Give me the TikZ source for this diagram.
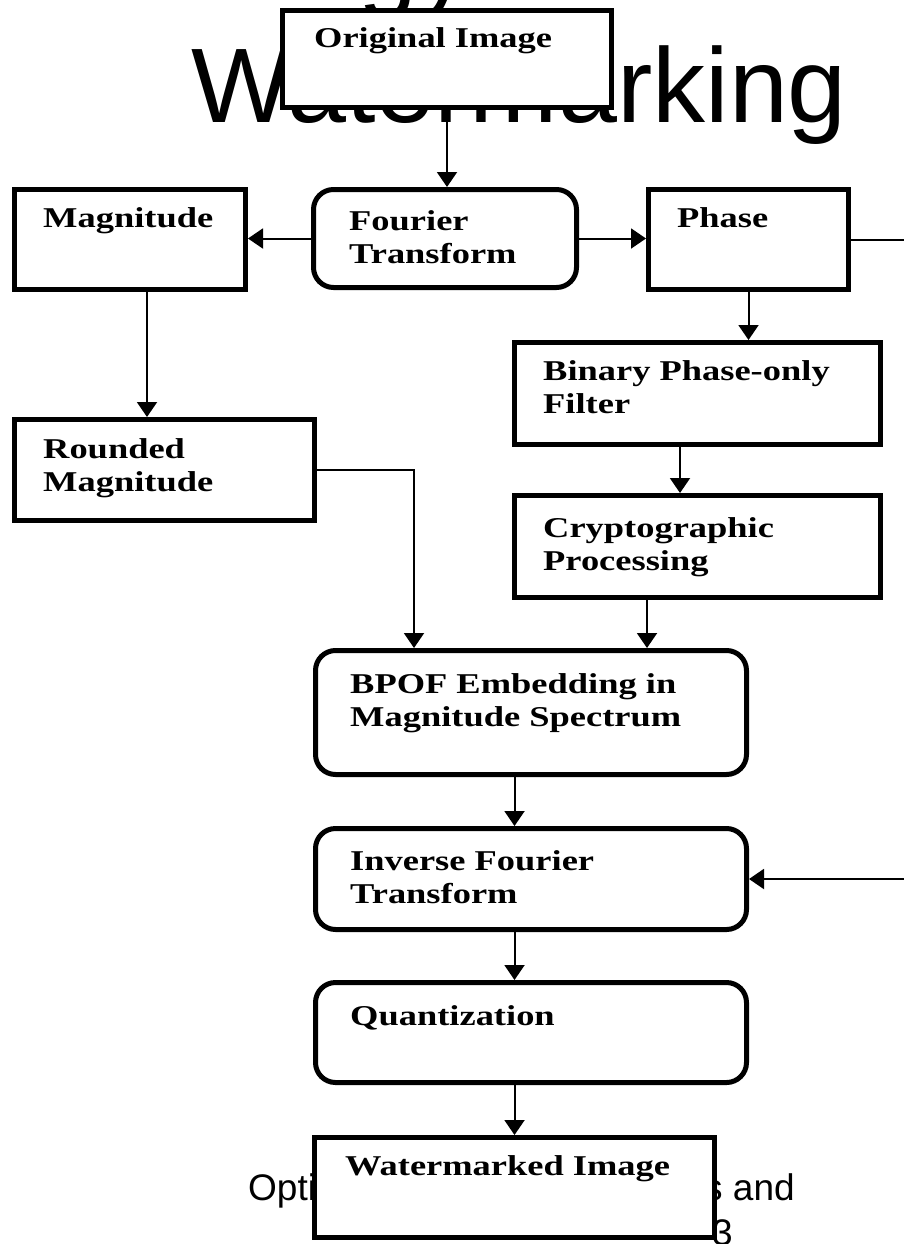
\documentclass[tikz,border=0pt]{standalone}
\usepackage{fontspec}
\usetikzlibrary{arrows.meta,calc}
\newfontfamily\boxfont[FakeStretch=1.27]{Liberation Serif}
\newfontfamily\slidefont{Liberation Sans}
\tikzset{
  stage/.style={draw, line width=5pt, fill=white, anchor=north west, inner sep=0pt},
  rstage/.style={stage, rounded corners=20pt},
  lbl/.style={font=\boxfont\bfseries\fontsize{28.7}{33}\selectfont, align=left, inner sep=0pt, anchor=north west},
  slide/.style={font=\slidefont, inner sep=0pt, anchor=base west},
  arr/.style={line width=2pt, -{Triangle[length=15pt,width=20pt]}}
}
\begin{document}
\begin{tikzpicture}[x=1pt,y=-1pt]
  \useasboundingbox (0,0) rectangle (904,1244);
  \clip (0,0) rectangle (904,1244);
  \fill[white] (0,0) rectangle (904,1244);
  \node[slide, font=\slidefont\fontsize{106}{127}\selectfont] (titleA) at (358,-2) {gy};
  \node[slide, font=\slidefont\fontsize{106}{127}\selectfont] (titleB) at (191,123) {Watermarking};
  \node[slide, font=\slidefont\fontsize{37}{45}\selectfont] (footA) at (248,1200) {Opti};
  \node[slide, font=\slidefont\fontsize{37}{45}\selectfont] (footB) at (704,1200) {s and};
  \node[slide, font=\slidefont\fontsize{37}{45}\selectfont] (footC) at (712,1245) {3};

  \node[stage, minimum width=329pt, minimum height=97pt,
    label={[lbl, xshift=34pt, yshift=-19.5pt]north west:Original Image}] (orig) at (280,8) {};
  \node[rstage, minimum width=263pt, minimum height=98pt,
    label={[lbl, xshift=38pt, yshift=-23.5pt]north west:Fourier\\Transform}] (ft) at (311,187) {};
  \node[stage, minimum width=231pt, minimum height=100pt,
    label={[lbl, xshift=31pt, yshift=-20.5pt]north west:Magnitude}] (mag) at (12,187) {};
  \node[stage, minimum width=200pt, minimum height=100pt,
    label={[lbl, xshift=31pt, yshift=-20.5pt]north west:Phase}] (phase) at (646,187) {};
  \node[stage, minimum width=300pt, minimum height=101pt,
    label={[lbl, xshift=31pt, yshift=-21.5pt]north west:Rounded\\Magnitude}] (rmag) at (12,417) {};
  \node[stage, minimum width=366pt, minimum height=102pt,
    label={[lbl, xshift=31pt, yshift=-20.5pt]north west:Binary Phase-only\\Filter}] (filt) at (512,340) {};
  \node[stage, minimum width=366pt, minimum height=102pt,
    label={[lbl, xshift=31pt, yshift=-24.5pt]north west:Cryptographic\\Processing}] (crypt) at (512,493) {};
  \node[rstage, minimum width=431pt, minimum height=124pt,
    label={[lbl, xshift=37pt, yshift=-25.5pt]north west:BPOF Embedding in\\Magnitude Spectrum}] (embed) at (313,648) {};
  \node[rstage, minimum width=431pt, minimum height=101pt,
    label={[lbl, xshift=37pt, yshift=-24.5pt]north west:Inverse Fourier\\Transform}] (ift) at (313,826) {};
  \node[rstage, minimum width=431pt, minimum height=100pt,
    label={[lbl, xshift=37pt, yshift=-25.5pt]north west:Quantization}] (quant) at (313,980) {};
  \node[stage, minimum width=400pt, minimum height=100pt,
    label={[lbl, xshift=33pt, yshift=-20.5pt]north west:Watermarked Image}] (wm) at (312,1135) {};

  \coordinate (magout) at (147,0);
  \coordinate (rmagin) at (414,0);
  \coordinate (filtout) at (680,0);
  \coordinate (cryptout) at (647,0);

  \draw[arr] (orig.south) -- (orig.south |- ft.north);
  \draw[arr] (ft.west) -- (ft.west -| mag.east);
  \draw[arr] (ft.east) -- (ft.east -| phase.west);
  \draw[arr] (phase.east) -- ++(90,0) |- (ift.east);
  \draw[arr] (mag.south -| magout) -- (rmag.north -| magout);
  \draw[arr] (phase.south) -- (phase.south |- filt.north);
  \draw[arr] (filt.south -| filtout) -- (crypt.north -| filtout);
  \draw[arr] (crypt.south -| cryptout) -- (embed.north -| cryptout);
  \draw[arr] (rmag.east) -| (embed.north -| rmagin);
  \draw[arr] (embed.south -| wm.north) -- (ift.north -| wm.north);
  \draw[arr] (ift.south -| wm.north) -- (quant.north -| wm.north);
  \draw[arr] (quant.south -| wm.north) -- (wm.north);
\end{tikzpicture}
\end{document}
